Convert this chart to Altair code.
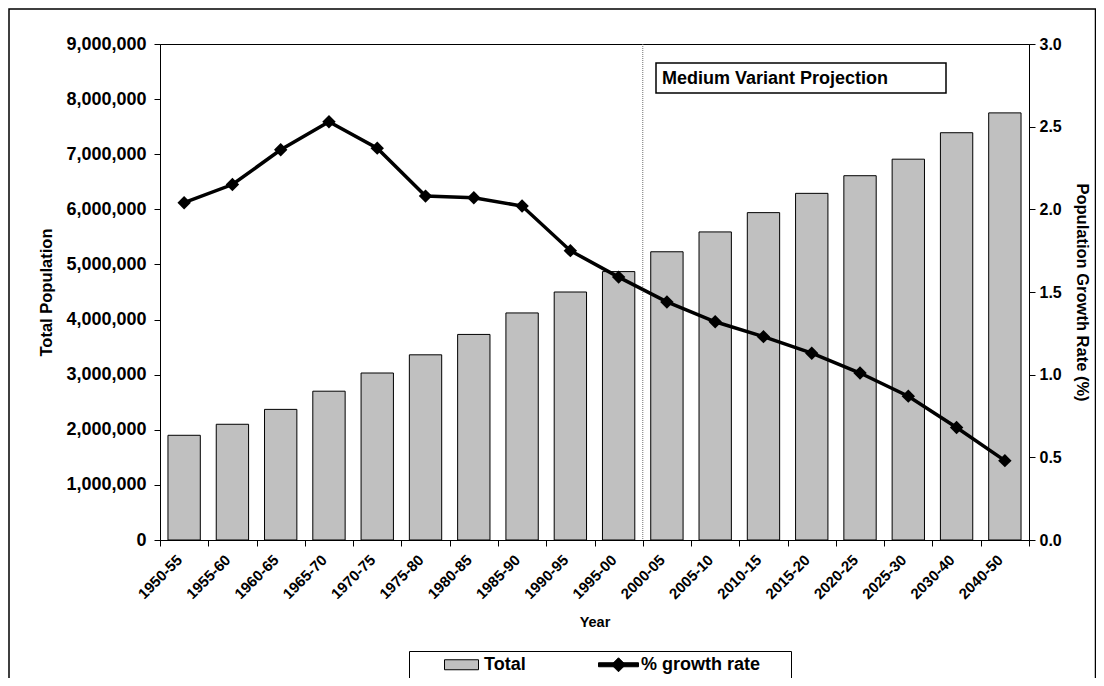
import altair as alt
import pandas as pd

# ---- data ----
periods = ["1950-55", "1955-60", "1960-65", "1965-70", "1970-75", "1975-80",
           "1980-85", "1985-90", "1990-95", "1995-00", "2000-05", "2005-10",
           "2010-15", "2015-20", "2020-25", "2025-30", "2030-40", "2040-50"]
total_population = [1900000, 2100000, 2370000, 2700000, 3030000, 3360000,
                    3730000, 4120000, 4500000, 4870000, 5230000, 5590000,
                    5940000, 6290000, 6610000, 6910000, 7390000, 7750000]
growth_rate = [2.04, 2.15, 2.36, 2.53, 2.37, 2.08, 2.07, 2.02, 1.75, 1.59,
               1.44, 1.32, 1.23, 1.13, 1.01, 0.87, 0.68, 0.48]
legend_items = ["Total", "% growth rate"]
projection_start = ["2000-05"]
annotation = ["Medium Variant Projection"]
left_ticks = [0, 1000000, 2000000, 3000000, 4000000, 5000000, 6000000,
              7000000, 8000000, 9000000]
right_ticks = [0.0, 0.5, 1.0, 1.5, 2.0, 2.5, 3.0]

FONT = "Liberation Sans"

df = pd.DataFrame({"Year": periods, "Total": total_population,
                   "Growth": growth_rate})
rule_df = pd.DataFrame({"Year": projection_start})
note_df = pd.DataFrame({"label": annotation})
legend_df = pd.DataFrame({"series": legend_items})

x_scale = alt.Scale(domain=periods, paddingInner=0, paddingOuter=0)
x_axis = alt.Axis(title="Year", labelAngle=-45, labelAlign="right",
                  labelBaseline="middle", tickBand="extent", labelFontSize=15,
                  labelPadding=11, labelOffset=-5, tickSize=6,
                  titleFontSize=14.5, titlePadding=14)
x_enc = alt.X("Year:N", sort=periods, scale=x_scale, axis=x_axis)

bars = alt.Chart(df).mark_bar(
    color="#c0c0c0", stroke="black", strokeWidth=1,
    width=alt.RelativeBandSize(0.67)
).encode(
    x=x_enc,
    y=alt.Y("Total:Q", scale=alt.Scale(domain=[0, 9000000], nice=False),
            axis=alt.Axis(title="Total Population", values=left_ticks,
                          format=",d", labelFontSize=18, tickSize=6,
                          labelPadding=8, titleFontSize=16.5,
                          titlePadding=11, orient="left")),
)

divider = alt.Chart(rule_df).mark_rule(
    color="#707070", strokeWidth=1, strokeDash=[1, 1]
).encode(
    x=alt.X("Year:N", sort=periods, scale=x_scale, axis=x_axis,
            bandPosition=0),
)

note_box = alt.Chart(note_df).mark_rect(
    fill="white", stroke="black", strokeWidth=1.5
).encode(
    x=alt.value(496), x2=alt.value(786), y=alt.value(19), y2=alt.value(49)
)
note_text = alt.Chart(note_df).mark_text(
    align="left", baseline="middle", font=FONT, fontWeight="bold",
    fontSize=18, color="black"
).encode(
    x=alt.value(502), y=alt.value(35), text="label:N"
)

left_group = alt.layer(bars, divider, note_box, note_text)

line = alt.Chart(df).mark_line(color="black", strokeWidth=3.5).encode(
    x=x_enc,
    y=alt.Y("Growth:Q", scale=alt.Scale(domain=[0, 3], nice=False),
            axis=alt.Axis(title="Population Growth Rate (%)",
                          values=right_ticks, format=".1f",
                          labelFontSize=16, tickSize=6, labelPadding=4,
                          titleFontSize=16.5, titlePadding=12,
                          orient="right")),
)
points = alt.Chart(df).mark_point(
    shape="diamond", filled=True, color="black", size=180, opacity=1
).encode(
    x=x_enc,
    y=alt.Y("Growth:Q", scale=alt.Scale(domain=[0, 3], nice=False)),
)
right_group = alt.layer(line, points)

rect_path = "M-0.85,-0.25H0.85V0.25H-0.85Z"
line_path = "M-1,-0.1H1V0.1H-1Z M-0.35,0L0,-0.35L0.35,0L0,0.35Z"
pad = "\u00a0" * 5 + "\u200b"
leg = alt.Legend(
    title=None, orient="none", legendX=249, legendY=607,
    direction="horizontal", strokeColor="black", fillColor="white",
    padding=5, symbolSize=1600, symbolOffset=27, labelOffset=2,
    columnPadding=45, clipHeight=17, symbolStrokeColor="black",
    symbolStrokeWidth=1, symbolOpacity=1, labelFont=FONT,
    labelFontWeight="bold", labelFontSize=18, labelColor="black",
    labelLimit=400,
    labelExpr="datum.label == '% growth rate' ? datum.label + '" + pad + "' : datum.label",
)
legend_layer = alt.Chart(legend_df).mark_point(filled=True, opacity=0).encode(
    shape=alt.Shape("series:N", scale=alt.Scale(domain=legend_items,
                    range=[rect_path, line_path]), legend=leg),
    color=alt.Color("series:N", scale=alt.Scale(domain=legend_items,
                    range=["#c0c0c0", "black"]), legend=leg),
    stroke=alt.Stroke("series:N", scale=alt.Scale(domain=legend_items,
                      range=["black", "black"]), legend=leg),
)

border = alt.Chart(note_df).mark_rect(
    fillOpacity=0, stroke="black", strokeWidth=1.5
).encode(
    x=alt.value(-151), x2=alt.value(935.5), y=alt.value(-35), y2=alt.value(700)
)

chart = alt.layer(left_group, right_group, legend_layer, border).resolve_scale(
    y="independent"
).properties(
    width=869, height=496,
    autosize=alt.AutoSizeParams(type="none"),
    padding={"left": 152, "top": 36, "right": 67, "bottom": 138},
    background="white",
).configure_view(
    stroke="black", strokeWidth=1
).configure_axis(
    labelFont=FONT, titleFont=FONT, labelFontWeight="bold",
    titleFontWeight="bold", labelColor="black", titleColor="black",
    domainColor="black", tickColor="black", grid=False
)

chart.save("out.html", embed_options={"renderer": "svg", "actions": False})
